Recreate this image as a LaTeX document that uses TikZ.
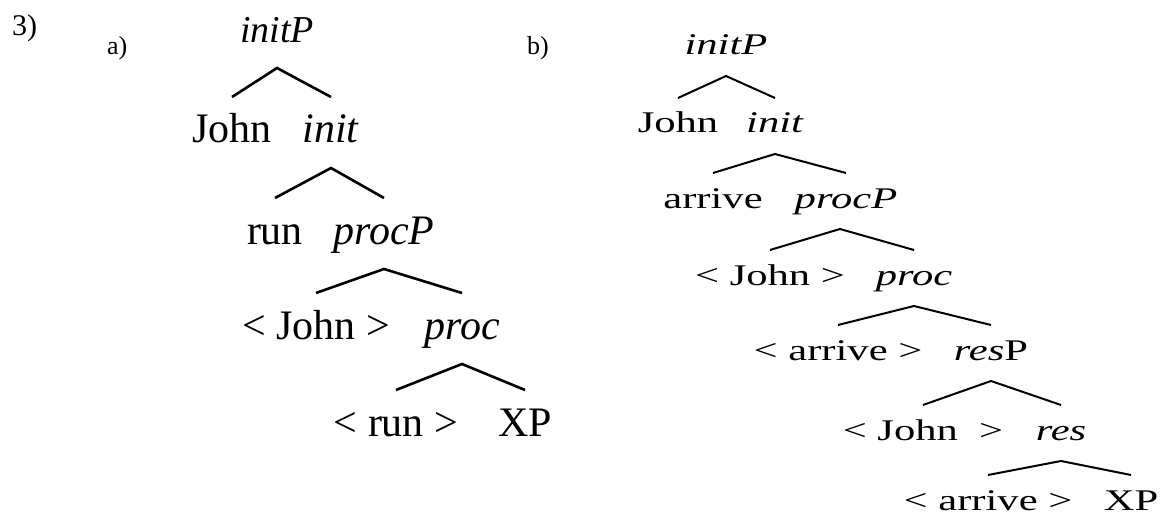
\documentclass[tikz,border=0pt]{standalone}
\usepackage{fontspec}
\setmainfont{Liberation Serif}
\newfontfamily\widerm[FakeStretch=1.42]{Liberation Serif}
\usetikzlibrary{positioning}

\begin{document}
\begin{tikzpicture}[
      x=1pt, y=-1pt,
      lbl/.style={anchor=base, inner sep=0pt, font=\fontsize{42}{48}\selectfont},
      lblb/.style={anchor=base, inner sep=0pt, font=\widerm\fontsize{30}{36}\selectfont},
      tag/.style={anchor=base west, inner sep=0pt, font=\fontsize{26}{30}\selectfont},
      brancha/.style={line width=2.6pt},
      branchb/.style={line width=2pt},
    ]
    \useasboundingbox (0,0) rectangle (1165,516);

    \node[tag, font=\fontsize{30}{34}\selectfont] (num) at (12,36) {3)};
    \node[tag] (taga) at (107,55) {a)};
    \node[tag] (tagb) at (527,55) {b)};

    % tree a
    \node[lbl, font=\fontsize{38}{44}\selectfont] (a0) at (277,43) {\textit{initP}};
    \node[lbl] (a1l) at (232,143) {John};
    \node[lbl] (a1r) at (331,143) {\textit{init}};
    \node[lbl] (a2l) at (275,244) {run};
    \node[lbl] (a2r) at (384,244) {\textit{procP}};
    \node[lbl] (a3l) at (316,339) {< John >};
    \node[lbl] (a3r) at (462,339) {\textit{proc}};
    \node[lbl] (a4l) at (396,436) {< run >};
    \node[lbl] (a4r) at (525,436) {XP};

    \draw[brancha] ([yshift=46pt]a1l.base) -- ([yshift=-25pt]a0.base) -- ([yshift=46pt]a1r.base);
    \draw[brancha] ([yshift=46pt]a2l.base) -- ([yshift=-25pt]a1r.base) -- ([yshift=46pt]a2r.base);
    \draw[brancha] ([yshift=46pt]a3l.base) -- ([yshift=-25pt]a2r.base) -- ([yshift=46pt]a3r.base);
    \draw[brancha] ([yshift=46pt]a4l.base) -- ([yshift=-25pt]a3r.base) -- ([yshift=46pt]a4r.base);

    % tree b
    \node[lblb] (b0) at (726,55) {\textit{initP}};
    \node[lblb] (b1l) at (678,133) {John};
    \node[lblb] (b1r) at (775,133) {\textit{init}};
    \node[lblb] (b2l) at (713,208) {arrive};
    \node[lblb] (b2r) at (846,208) {\textit{procP}};
    \node[lblb] (b3l) at (770,285) {< John >};
    \node[lblb] (b3r) at (914,285) {\textit{proc}};
    \node[lblb] (b4l) at (838,360) {< arrive >};
    \node[lblb] (b4r) at (991,360) {\textit{res}P};
    \node[lblb] (b5l) at (923,440) {< John \ >};
    \node[lblb] (b5r) at (1061,440) {\textit{res}};
    \node[lblb] (b6l) at (988,510) {< arrive >};
    \node[lblb] (b6r) at (1131,510) {XP};

    \draw[branchb] ([yshift=35pt]b1l.base) -- ([yshift=-21pt]b0.base) -- ([yshift=35pt]b1r.base);
    \draw[branchb] ([yshift=35pt]b2l.base) -- ([yshift=-21pt]b1r.base) -- ([yshift=35pt]b2r.base);
    \draw[branchb] ([yshift=35pt]b3l.base) -- ([yshift=-21pt,xshift=-6pt]b2r.base) -- ([yshift=35pt]b3r.base);
    \draw[branchb] ([yshift=35pt]b4l.base) -- ([yshift=-21pt]b3r.base) -- ([yshift=35pt]b4r.base);
    \draw[branchb] ([yshift=35pt]b5l.base) -- ([yshift=-21pt]b4r.base) -- ([yshift=35pt]b5r.base);
    \draw[branchb] ([yshift=35pt]b6l.base) -- ([yshift=-21pt]b5r.base) -- ([yshift=35pt]b6r.base);
  \end{tikzpicture}
\end{document}
